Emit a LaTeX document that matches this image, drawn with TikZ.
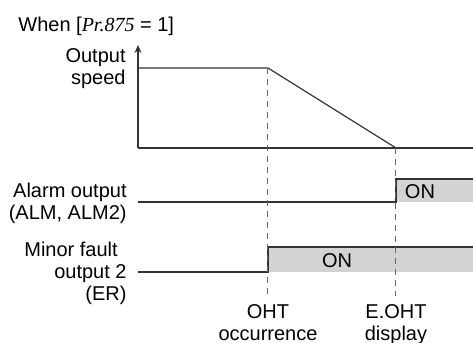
\documentclass[tikz,border=0pt]{standalone}
\usepackage{fontspec}
\setmainfont{Liberation Sans}
\newfontfamily\prfont{Liberation Serif}
\usetikzlibrary{arrows.meta,positioning,calc}
\definecolor{onfill}{HTML}{D3D3D3}
\definecolor{sigline}{HTML}{333333}
\tikzset{sig/.style={draw=sigline,line width=0.6pt},
  guide/.style={draw=black!60,dashed,dash pattern=on 3pt off 2.5pt,line width=0.5pt},
  lbl/.style={align=right,anchor=east,inner sep=0pt,font=\fontsize{10}{11}\selectfont},
  tag/.style={inner sep=0pt,font=\fontsize{10}{11}\selectfont}}
\begin{document}
\begin{tikzpicture}[x=0.5pt,y=-0.5pt,>={Stealth[length=4pt,width=3.5pt]}]
\useasboundingbox (0,0) rectangle (473,343);
% axis and speed curve
\coordinate (o) at (138,148); \coordinate (top) at (138,45);
\coordinate (s1) at (138,68); \coordinate (s2) at (268,68); \coordinate (s3) at (396,148); \coordinate (e) at (473,148);
\draw[sig,->] (o) -- (top);
\draw[sig] (s1) -- (s2) -- (s3);
\draw[sig] (o) -- (e);
% on fills
\fill[onfill] (396,179) rectangle (473,202); \fill[onfill] (268,247) rectangle (473,272);
\draw[sig] (138,202) -- (396,202) -- (396,179) -- (473,179);
\draw[sig] (138,272) -- (268,272) -- (268,247) -- (473,247);
% guides
\draw[guide] (s2) -- (268,296); \draw[guide] (s3) -- (396,296);
% texts
\node[tag,anchor=west] (when) at (18,26) {When [{\prfont\itshape Pr.875} = 1]};
\node[lbl] (spd) at (126,69) {Output\\speed};
\node[lbl] (alm) at (127,203) {Alarm output\\(ALM, ALM2)};
\node[lbl] (er) at (127,273) {Minor fault\phantom{ }\,\\output 2\\(ER)};
\node[tag] (on1) at (420,192) {ON}; \node[tag] (on2) at (337,261) {ON};
\node[tag,align=center,anchor=north] (oht) at (268,304) {OHT\\occurrence};
\node[tag,align=center,anchor=north] (eoht) at (396,304) {E.OHT\\display};
\end{tikzpicture}
\end{document}
